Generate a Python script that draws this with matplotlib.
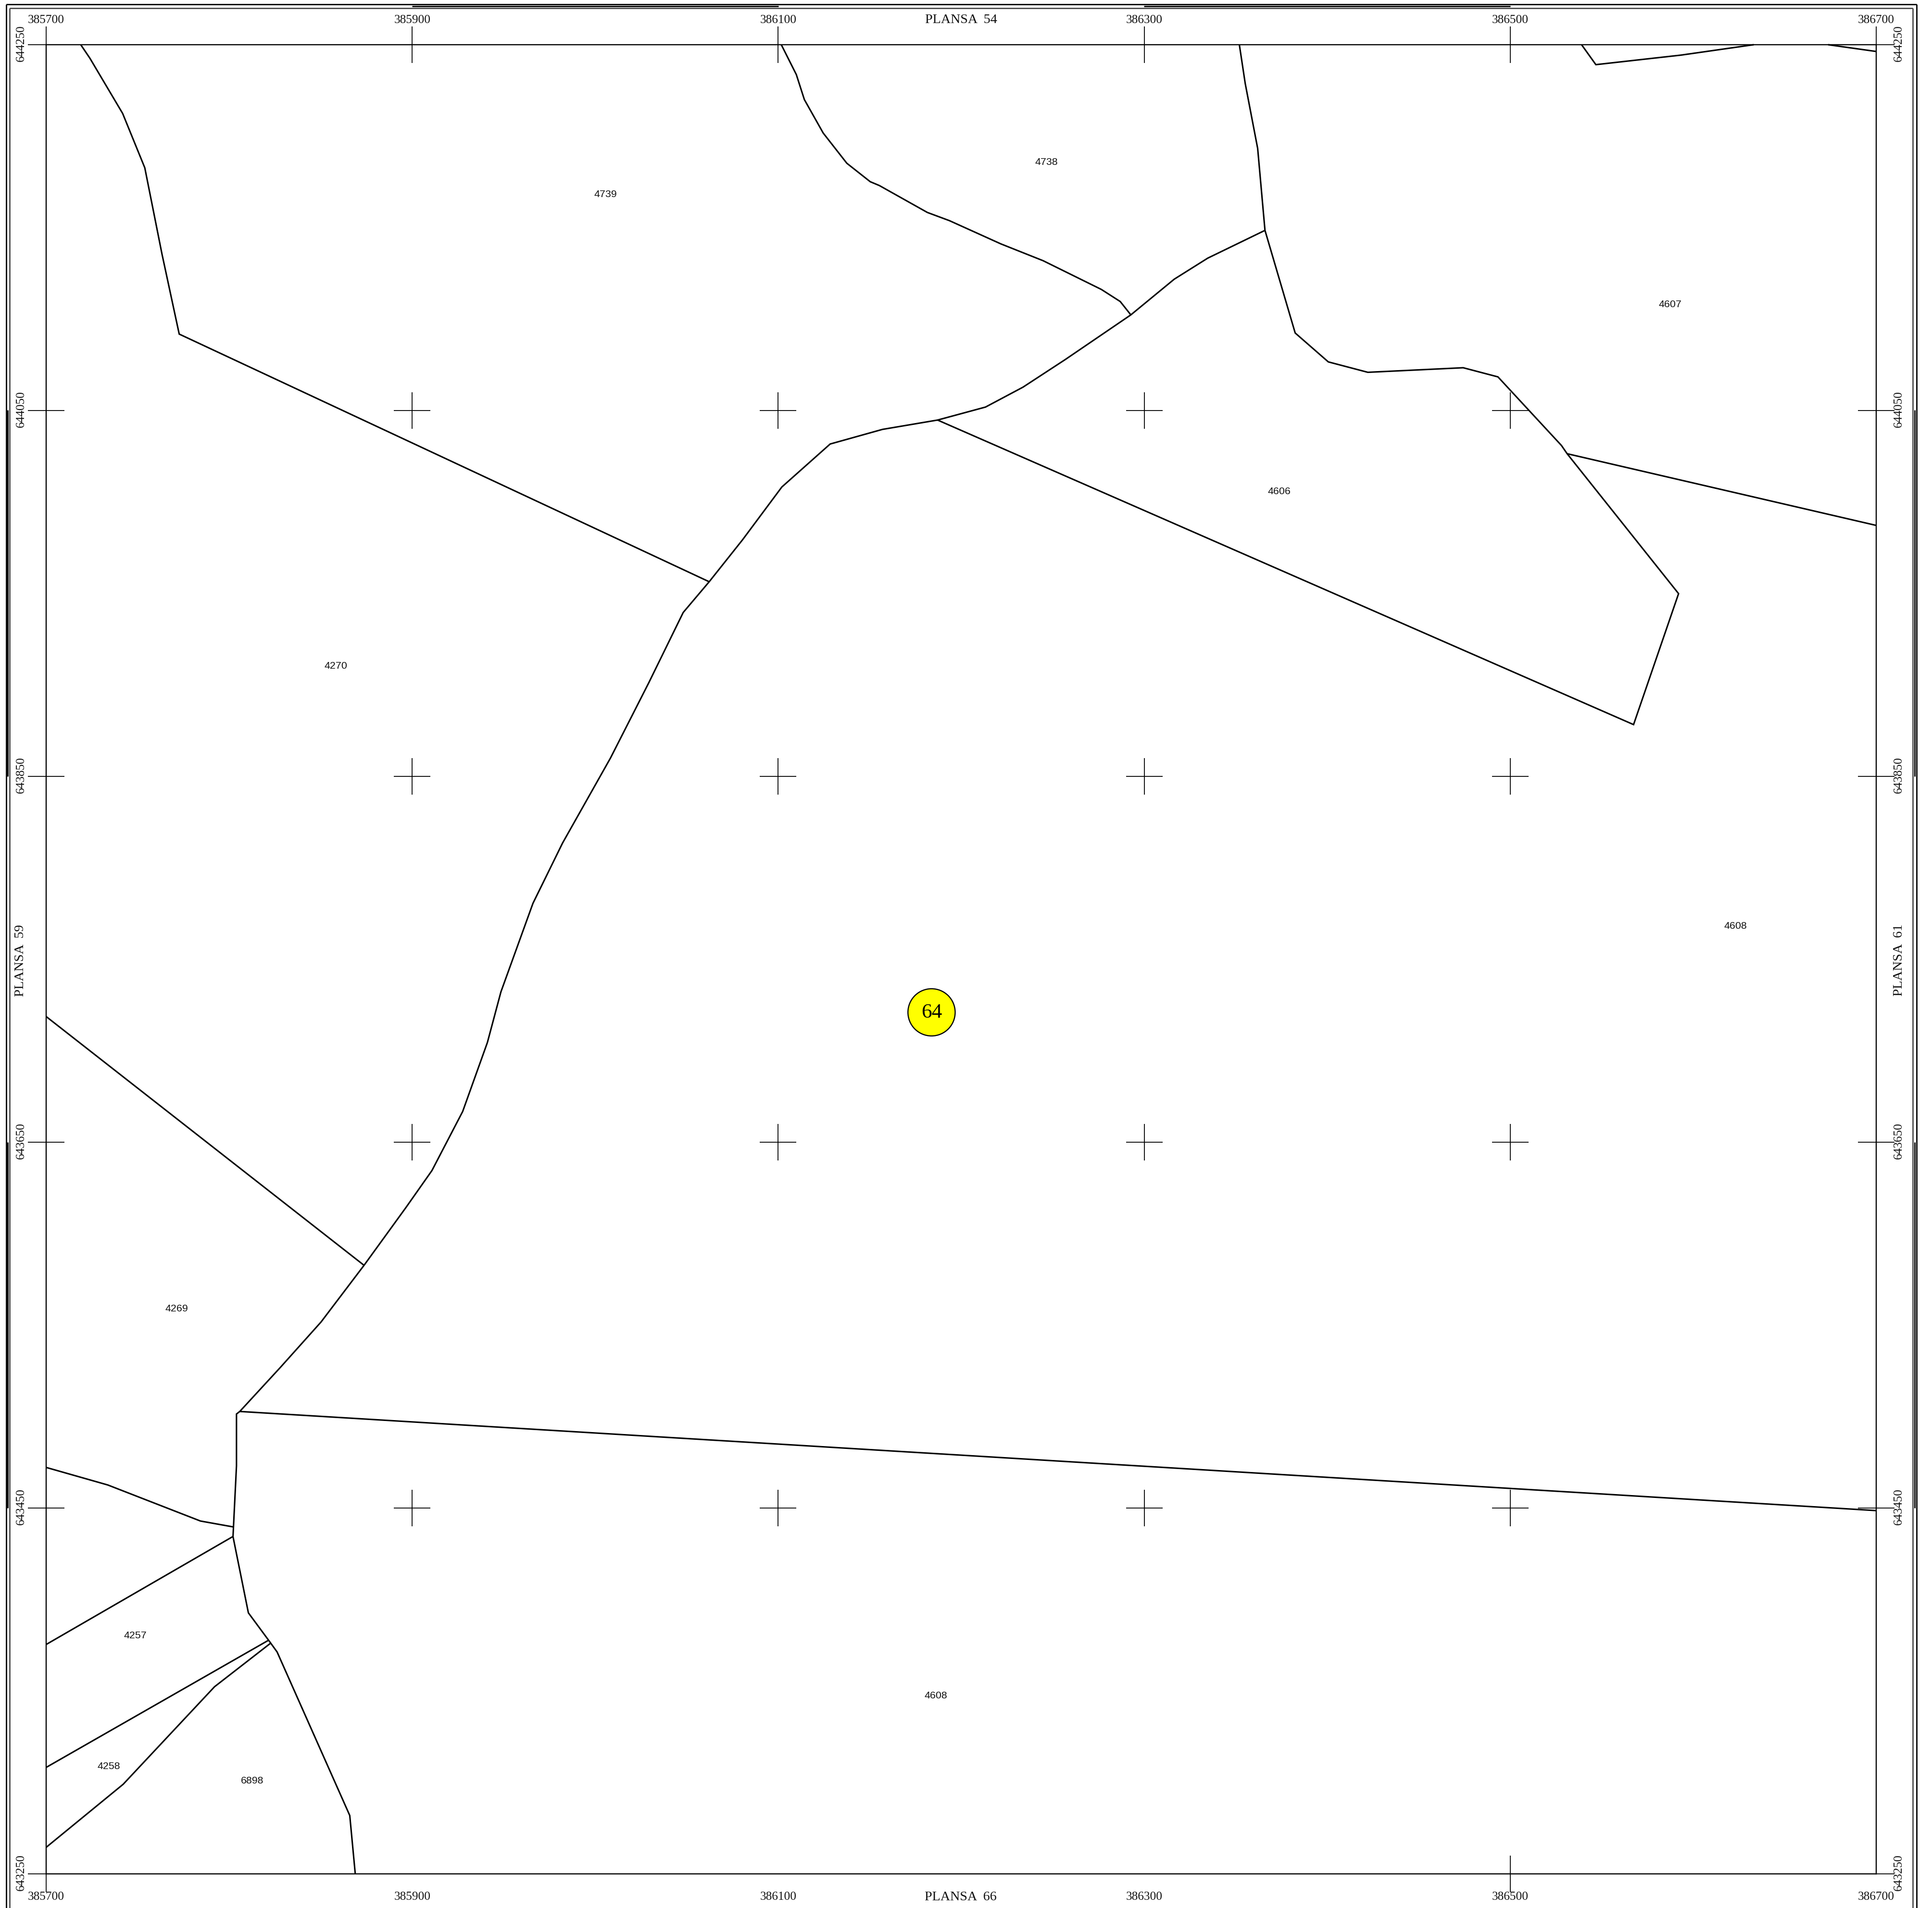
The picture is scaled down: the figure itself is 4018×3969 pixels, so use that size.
import matplotlib
matplotlib.use("Agg")
import matplotlib.pyplot as plt
from matplotlib.lines import Line2D
from matplotlib.patches import Circle
from matplotlib.transforms import blended_transform_factory as btf

W, H = 4018, 3970
DPI = 300
PX = 72 / DPI

# ---- data (map coordinates, metres) ----
x_ticks = [385700, 385900, 386100, 386300, 386500, 386700]
y_ticks = [644250, 644050, 643850, 643650, 643450, 643250]
bottom_ticks = [385700, 386500]

parcel_1 = [(385718.9, 644250), (385723.9, 644242.6), (385741.8, 644212.4), (385753.9, 644182.7),
            (385763.3, 644135.5), (385772.7, 644091.8), (386062.3, 643956.4)]
parcel_main = [(386366.0, 644148.5), (386334.7, 644133.3), (386316.4, 644121.8), (386292.7, 644102.3),
               (386256.9, 644077.9), (386233.8, 644062.8), (386213.3, 644051.9), (386187.1, 644044.8),
               (386157.0, 644039.7), (386128.4, 644031.7), (386102.0, 644008.2), (386080.5, 643979.3),
               (386062.3, 643956.4), (386048.1, 643939.6), (386029.3, 643901.2), (386008.4, 643860.1),
               (385982.2, 643813.6), (385966.0, 643780.6), (385948.5, 643732.2), (385941.1, 643704.5),
               (385927.6, 643666.8), (385910.8, 643634.5), (385896.6, 643614.3), (385873.7, 643582.7),
               (385850.2, 643551.7), (385827.9, 643526.8), (385805.8, 643502.8), (385804.0, 643501.4),
               (385804.0, 643473.1), (385802.1, 643434.4), (385810.5, 643392.7), (385822.3, 643376.7),
               (385826.2, 643371.3), (385865.9, 643281.9), (385868.9, 643250)]
parcel_3 = [(386101.7, 644250), (386109.9, 644233.7), (386114.3, 644220.0), (386124.6, 644201.7),
            (386137.5, 644185.2), (386150.3, 644175.1), (386155.3, 644173.0), (386181.5, 644158.3),
            (386193.6, 644153.8), (386221.7, 644141.1), (386244.8, 644131.9), (386276.6, 644116.2),
            (386286.9, 644109.6), (386292.7, 644102.3)]
parcel_4 = [(386352.0, 644250), (386355.2, 644228.8), (386362.0, 644193.3), (386366.0, 644148.5),
            (386382.5, 644092.4), (386400.6, 644076.6), (386422.2, 644070.9), (386474.3, 644073.4),
            (386493.3, 644068.4), (386528.0, 644030.9), (386531.1, 644026.4), (386592.0, 643949.9),
            (386567.4, 643878.3), (386187.1, 644044.8)]
parcel_5 = [(386531.1, 644026.4), (386700, 643987.2)]
parcel_6 = [(386539.0, 644250), (386546.8, 644239.1), (386593.2, 644244.3), (386633.1, 644250)]
parcel_7 = [(386673.7, 644250), (386700, 644246.3)]
parcel_8 = [(385700, 643718.7), (385873.7, 643582.7)]
parcel_9 = [(385805.8, 643502.8), (386700, 643448.6)]
parcel_10 = [(385700, 643472.2), (385733.7, 643462.6), (385784.3, 643442.9), (385802.1, 643439.7)]
parcel_11 = [(385700, 643375.4), (385802.0, 643434.4)]
parcel_12 = [(385700, 643308.2), (385821.3, 643377.6)]
parcel_13 = [(385700, 643264.5), (385742.1, 643299.0), (385792.0, 643352.3), (385822.5, 643376.0)]
parcels = [parcel_1, parcel_main, parcel_3, parcel_4, parcel_5, parcel_6, parcel_7,
           parcel_8, parcel_9, parcel_10, parcel_11, parcel_12, parcel_13]

label_text = ["4739", "4738", "4607", "4606", "4270", "4608", "4269", "4257", "4608", "4258", "6898"]
label_x = [386005.7, 386246.5, 386587.3, 386373.9, 385858.2, 386623.2, 385771.4, 385748.8, 386186.2, 385734.3, 385812.7]
label_y = [644168.5, 644185.9, 644108.3, 644006.0, 643910.6, 643768.5, 643559.1, 643380.6, 643347.6, 643308.9, 643301.0]

sheet_no = "64"
sheet_x, sheet_y, sheet_r = 386183.8, 643721.0, 12.9
neighbours = {"top": "PLANSA  54", "bottom": "PLANSA  66", "left": "PLANSA  59", "right": "PLANSA  61"}

# ---- layout ----
fig = plt.figure(figsize=(W / DPI, H / DPI), dpi=DPI, facecolor="white")
ax = fig.add_axes([96 / W, (H - 3899) / H, 3806 / W, 3805 / H])
ax.set_xlim(385700, 386700)
ax.set_ylim(643250, 644250)
ax.set_xticks([]); ax.set_yticks([])
for s in ax.spines.values():
    s.set_linewidth(2.4 * PX)
    s.set_color("black")

def fx(p): return p / W
def fy(p): return 1 - p / H

def frame(x0, y0, x1, y1, lw, color="black"):
    fig.add_artist(Line2D([fx(x0), fx(x1)], [fy(y0), fy(y1)], color=color, lw=lw * PX,
                          solid_capstyle="butt", transform=fig.transFigure))

# outer frame (bottom falls off the page)
frame(12.5, 10, 3986, 10, 2.8); frame(12.5, 10, 12.5, H, 2.8); frame(3986, 10, 3986, H, 2.8)
# inner frame
frame(20, 17.5, 3978, 17.5, 2.6, "#404040"); frame(20, 17.5, 20, H, 2.6, "#404040"); frame(3978, 17.5, 3978, H, 2.6, "#404040")
# middle strokes
for a, b in [(857, 1619), (2379, 3141)]:
    frame(a, 14, b, 14, 2.8)
for a, b in [(854, 1616), (2377, 3138)]:
    frame(15.7, a, 15.7, b, 2.8)
    frame(3982, a, 3982, b, 2.8)

# crosses
HALF = 10.0
cross_kw = dict(color="black", lw=1.8 * PX, clip_on=False, solid_capstyle="butt", zorder=2)
for yy in y_ticks:
    for xx in x_ticks:
        ax.plot([xx - HALF, xx + HALF], [yy, yy], **cross_kw)
        if yy != y_ticks[-1] or xx in bottom_ticks:
            ax.plot([xx, xx], [yy - HALF, yy + HALF], **cross_kw)

# parcels
for p in parcels:
    ax.plot([q[0] for q in p], [q[1] for q in p], color="black", lw=3.1 * PX,
            solid_joinstyle="miter", solid_capstyle="butt", clip_on=False, zorder=3)

for t, x, y in zip(label_text, label_x, label_y):
    ax.text(x, y, t, family="Liberation Sans", fontsize=5.15, ha="center", va="center", color="#111111")

ax.add_patch(Circle((sheet_x, sheet_y), sheet_r, facecolor="#ffff00", edgecolor="black", lw=2.4 * PX, zorder=4))
ax.text(sheet_x, sheet_y, sheet_no, family="Liberation Serif", fontsize=10.4, ha="center", va="center", zorder=5)

# coordinates round the frame
serif = dict(family="Liberation Serif", fontsize=6.05, color="#111111")
tx = btf(ax.transData, fig.transFigure)
ty = btf(fig.transFigure, ax.transData)
for xx in x_ticks:
    ax.text(xx, fy(42), str(xx), transform=tx, ha="center", va="center", clip_on=False, **serif)
    ax.text(xx, fy(3946), str(xx), transform=tx, ha="center", va="center", clip_on=False, **serif)
for yy in y_ticks:
    ax.text(fx(44), yy + 1, str(yy), transform=ty, rotation=90, ha="center", va="center", clip_on=False, **serif)
    ax.text(fx(3949), yy + 1, str(yy), transform=ty, rotation=90, ha="center", va="center", clip_on=False, **serif)

big = dict(family="Liberation Serif", fontsize=6.75, color="#111111", ha="center", va="center")
fig.text(fx(1999), fy(41), neighbours["top"], **big)
fig.text(fx(1998), fy(3947), neighbours["bottom"], **big)
fig.text(fx(43), fy(1998), neighbours["left"], rotation=90, **big)
fig.text(fx(3950), fy(1997), neighbours["right"], rotation=90, **big)

fig.savefig("out.png", dpi=DPI, facecolor="white")
